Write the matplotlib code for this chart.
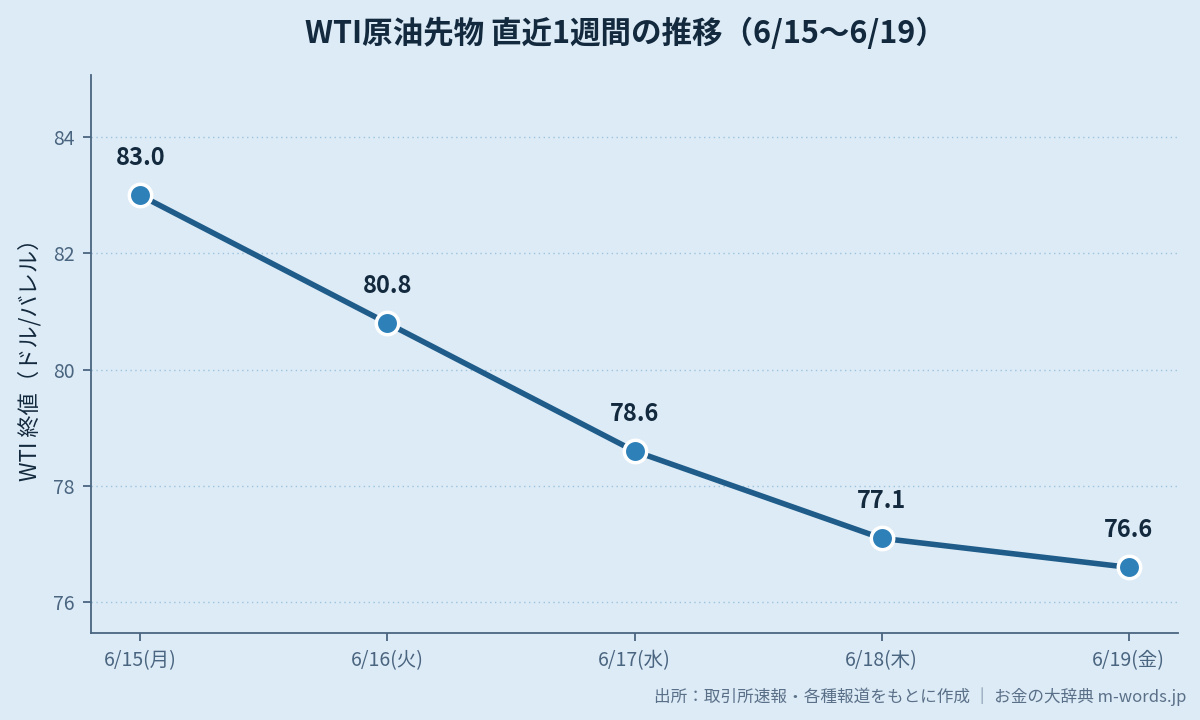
import matplotlib
matplotlib.use("Agg")
import matplotlib.pyplot as plt

plt.rcParams['font.family'] = ['Noto Sans CJK JP', 'DejaVu Sans']

# data
days = ["6/15(月)", "6/16(火)", "6/17(水)", "6/18(木)", "6/19(金)"]
closes = [83.0, 80.8, 78.6, 77.1, 76.6]
yticks = [76, 78, 80, 82, 84]

bg = "#ddebf6"
axis_col = "#4a6580"
line_col = "#1f5c8a"
marker_col = "#2e80b9"
text_col = "#13293d"

fig = plt.figure(figsize=(12, 7.2), dpi=100, facecolor=bg)
ax = fig.add_axes([0.0758, 0.1208, 0.9059, 0.775])
ax.set_facecolor(bg)

x = list(range(len(days)))
ax.plot(x, closes, color=line_col, lw=4, zorder=3, solid_capstyle='round')
ax.scatter(x, closes, s=260, color=marker_col, edgecolor='white', linewidth=2.5, zorder=4)

for xi, v in zip(x, closes):
    ax.annotate(f"{v:.1f}", (xi, v), xytext=(0, 18), textcoords='offset points',
                ha='center', va='bottom', fontsize=17, fontweight='bold', color=text_col)

ax.set_xlim(-0.2, 4.2)
ax.set_ylim(75.47, 85.07)
ax.set_xticks(x)
ax.set_xticklabels(days)
ax.set_yticks(yticks)

ax.grid(axis='y', linestyle=(0, (1, 2.5)), color='#9cc3df', lw=1)
ax.grid(axis='x', visible=False)
ax.set_axisbelow(True)

for s in ['top', 'right']:
    ax.spines[s].set_visible(False)
for s in ['left', 'bottom']:
    ax.spines[s].set_color(axis_col)
    ax.spines[s].set_linewidth(1.3)

ax.tick_params(colors=axis_col, labelsize=14, length=6, width=1.3, pad=6)
ax.set_ylabel("WTI 終値（ドル/バレル）", fontsize=16, color=text_col, labelpad=8)

fig.text(0.521, 0.953, "WTI原油先物 直近1週間の推移（6/15〜6/19）", ha='center', va='center',
         fontsize=22, fontweight='bold', color=text_col)
fig.text(0.989, 0.032, "出所：取引所速報・各種報道をもとに作成 ｜ お金の大辞典 m-words.jp",
         ha='right', va='center', fontsize=12, color='#5a7088')

fig.savefig("out.png", dpi=100, facecolor=bg)
